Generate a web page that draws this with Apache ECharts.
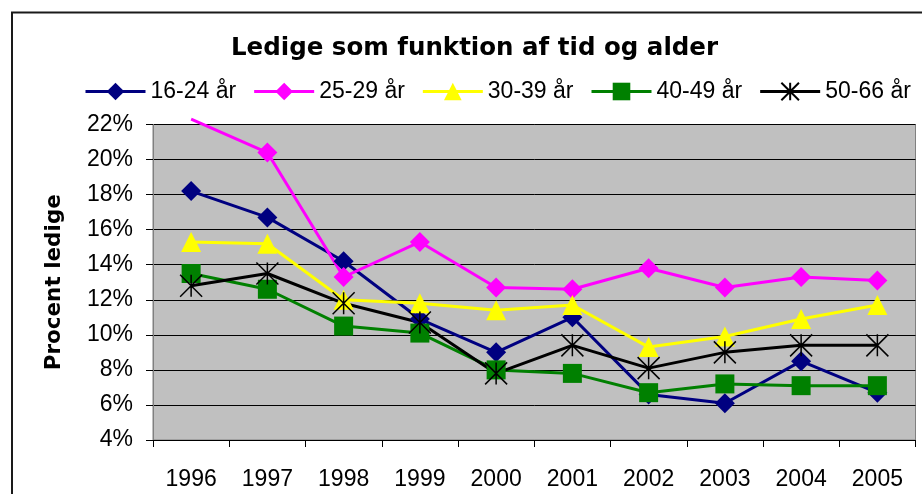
<!DOCTYPE html>
<html>
<head>
<meta charset="utf-8">
<script src="https://cdn.jsdelivr.net/npm/echarts@6/dist/echarts.min.js"></script>
<style>
html,body{margin:0;padding:0;background:#fff;}
#c{width:922px;height:494px;}
</style>
</head>
<body>
<div id="c"></div>
<script>
const years = ['1996','1997','1998','1999','2000','2001','2002','2003','2004','2005'];
const yTicks = [4, 22, 2]; // min, max, interval (percent)
const s1624 = [18.2, 16.7, 14.2, 10.9, 9.0, 11.0, 6.6, 6.1, 8.5, 6.7];
const s2529 = [22.3, 20.4, 13.3, 15.3, 12.7, 12.6, 13.8, 12.7, 13.3, 13.1];
const s3039 = [15.3, 15.2, 12.0, 11.8, 11.4, 11.7, 9.3, 9.9, 10.9, 11.7];
const s4049 = [13.5, 12.6, 10.5, 10.1, 8.0, 7.8, 6.7, 7.2, 7.1, 7.1];
const s5066 = [12.8, 13.5, 11.8, 10.7, 7.8, 9.4, 8.1, 9.0, 9.4, 9.4];
const names = ['16-24 år','25-29 år','30-39 år','40-49 år','50-66 år'];

const FONT = "'Liberation Sans', Arial, sans-serif";
const STAR = 'path://M0,0L20,20M20,0L0,20M10,0L10,20';
const chart = echarts.init(document.getElementById('c'), null, {renderer:'canvas'});

function mk(name, data, color, symbol, size, extra) {
  return Object.assign({
    name: name, type: 'line', data: data, symbol: symbol, symbolSize: size,
    clip: false, animation: false,
    lineStyle: {color: color, width: 3},
    itemStyle: {color: color},
    emphasis: {disabled: true}
  }, extra || {});
}

const pinkData = s2529.map((v, i) => i === 0 ? {value: v, symbolSize: 0} : v);

chart.setOption({
  animation: false,
  backgroundColor: '#fff',
  title: {
    text: 'Ledige som funktion af tid og alder',
    left: 231, top: 36, padding: 0,
    textStyle: {fontFamily: "'DejaVu Sans', sans-serif", fontWeight: 'bold', fontSize: 24.5, color: '#000'}
  },
  legend: {
    left: 79, top: 75, width: 860, itemWidth: 60, itemHeight: 22, itemGap: 16.5,
    textStyle: {fontFamily: FONT, fontSize: 23, color: '#000'},
    lineStyle: {width: 3},
    data: names
  },
  grid: {left: 153, top: 124.5, right: 6.5, bottom: 54, show: true,
    backgroundColor: '#c0c0c0', borderColor: '#808080', borderWidth: 1},
  xAxis: {
    type: 'category', data: years, boundaryGap: true,
    axisLine: {lineStyle: {color: '#000', width: 1}},
    axisTick: {show: true, length: 7, lineStyle: {color: '#000'}},
    axisLabel: {color: '#000', fontFamily: FONT, fontSize: 23, margin: 28},
    splitLine: {show: false}
  },
  yAxis: {
    type: 'value', min: yTicks[0], max: yTicks[1], interval: yTicks[2],
    name: 'Procent ledige', nameLocation: 'middle', nameRotate: 90, nameGap: 88,
    nameTextStyle: {fontFamily: "'DejaVu Sans', sans-serif", fontWeight: 'bold', fontSize: 21.5, color: '#000'},
    axisLine: {show: true, lineStyle: {color: '#808080', width: 1}},
    axisTick: {show: true, length: 7, lineStyle: {color: '#000'}},
    axisLabel: {color: '#000', fontFamily: FONT, fontSize: 23, margin: 20, formatter: '{value}%'},
    splitLine: {show: true, lineStyle: {color: '#000', width: 1}}
  },
  graphic: [{
    type: 'rect', shape: {x: 12, y: 12.5, width: 1000, height: 1000},
    style: {fill: 'none', stroke: '#1a1a1a', lineWidth: 2}, silent: true, z: 100
  }],
  series: [
    mk(names[0], s1624, '#000080', 'diamond', 20),
    mk(names[1], pinkData, '#ff00ff', 'diamond', 20),
    mk(names[2], s3039, '#ffff00', 'triangle', 20),
    mk(names[3], s4049, '#008000', 'rect', 19),
    mk(names[4], s5066, '#000000', STAR, 22, {
      itemStyle: {color: 'rgba(0,0,0,0)', borderColor: '#000', borderWidth: 1.5}
    })
  ]
});
</script>
</body>
</html>
